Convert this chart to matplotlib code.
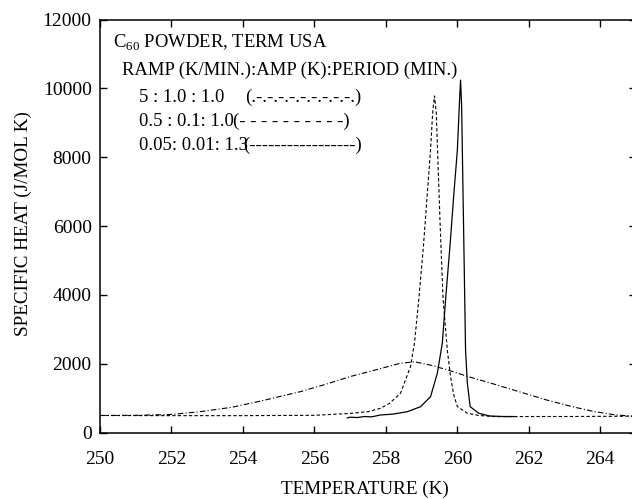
import matplotlib
matplotlib.use('Agg')
import matplotlib.pyplot as plt

plt.rcParams['font.family'] = ['Liberation Serif', 'DejaVu Serif']
plt.rcParams['mathtext.fontset'] = 'custom'
plt.rcParams['mathtext.rm'] = 'Liberation Serif'

# 5 K/min ramp, 1.0 K amplitude, 1.0 min period (dash-dot)
t_fast = [250.0, 251.0, 252.0, 252.8, 253.7, 254.5, 255.6, 256.3, 257.0, 257.7,
          258.4, 258.8, 259.3, 259.8, 260.3, 261.0, 261.7, 262.5, 263.2, 263.8,
          264.4, 264.9]
cp_fast = [500, 505, 530, 610, 740, 920, 1190, 1400, 1630, 1820,
           2015, 2060, 1950, 1800, 1630, 1420, 1200, 950, 760, 620,
           520, 480]

# 0.5 K/min ramp, 0.1 K amplitude, 1.0 min period (dashed)
t_mid = [250.0, 252.0, 254.0, 256.0, 257.0, 257.5, 257.85, 258.1, 258.41, 258.69,
         258.8, 258.92, 259.05, 259.15, 259.25, 259.31, 259.36, 259.41, 259.45,
         259.52, 259.6, 259.72, 259.81, 259.9, 260.0, 260.28, 260.6, 261.1,
         262.0, 263.0, 264.0, 264.9]
cp_mid = [500, 495, 495, 505, 560, 610, 708, 850, 1145, 1920,
          2600, 3855, 5400, 6800, 8210, 9300, 9780, 9300, 8100,
          6000, 3900, 2400, 1630, 1100, 760, 565, 500, 465,
          470, 470, 475, 480]

# 0.05 K/min ramp, 0.01 K amplitude, 1.3 min period (solid)
t_slow = [256.92, 257.0, 257.2, 257.4, 257.6, 257.85, 258.2, 258.6, 258.97, 259.25,
          259.44, 259.58, 259.67, 259.8, 259.9, 260.0, 260.06, 260.09, 260.12,
          260.14, 260.19, 260.23, 260.28, 260.36, 260.6, 260.9, 261.3, 261.6]
cp_slow = [430, 450, 440, 470, 460, 515, 540, 610, 755, 1045,
           1725, 2600, 3850, 5500, 6900, 8200, 9600, 10240, 9500,
           8200, 5000, 2400, 1435, 755, 565, 485, 470, 470]

x_ticks = [250, 252, 254, 256, 258, 260, 262, 264]
y_ticks = [0, 2000, 4000, 6000, 8000, 10000, 12000]

legend_rows = ['5 : 1.0 : 1.0', '0.5 : 0.1: 1.0', '0.05: 0.01: 1.3']
legend_marks = ['(' + '.-' * 9 + '.)',
                '(' + '- ' * 9 + '-)',
                '(' + '-' * 17 + ')']
mark_x = [245, 233, 243]

fig = plt.figure(figsize=(6.32, 4.99), dpi=100)
ax = fig.add_axes([100 / 632, 66.3 / 499, 536 / 632, 413.2 / 499])

ax.plot(t_fast, cp_fast, color='black', lw=0.8, linestyle=(0, (5, 2, 1, 2)))
ax.plot(t_mid, cp_mid, color='black', lw=0.8, linestyle=(0, (3, 2)))
ax.plot(t_slow, cp_slow, color='black', lw=0.9)

ax.set_xlim(250, 265)
ax.set_ylim(0, 12000)
ax.set_xticks(x_ticks)
ax.set_yticks(y_ticks)
ax.tick_params(direction='in', top=True, right=True, length=5, width=1,
               labelsize=14)
ax.tick_params(axis='x', pad=13)
ax.tick_params(axis='y', pad=6)
for s in ax.spines.values():
    s.set_linewidth(1.1)

# headings and hand-written legend, as in the original figure
fig.text(113 / 632, 1 - 48 / 499, r'C$_{60}$ POWDER, TERM USA', fontsize=13.4,
         va='baseline')
fig.text(121.7 / 632, 1 - 75 / 499, 'RAMP (K/MIN.):AMP (K):PERIOD (MIN.)',
         fontsize=13.4, va='baseline')
for i, (row, mark) in enumerate(zip(legend_rows, legend_marks)):
    yb = 1 - (101.7 + 24.3 * i) / 499
    fig.text(139 / 632, yb, row, fontsize=13.4, va='baseline')
    fig.text(mark_x[i] / 632, yb, mark, fontsize=13.4, va='baseline')

fig.text(365 / 632, 5 / 499, 'TEMPERATURE (K)', fontsize=13.8, ha='center',
         va='baseline')
fig.text(23 / 632, 1 - 224 / 499, 'SPECIFIC HEAT (J/MOL K)', fontsize=13.8,
         rotation=90, ha='center', va='center')

fig.savefig('out.png', dpi=100)
